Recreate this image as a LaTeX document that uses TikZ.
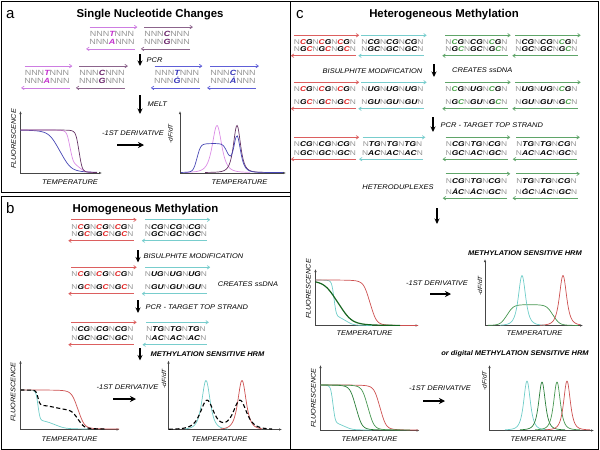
\documentclass[tikz,border=0pt]{standalone}
\usepackage{fontspec}
\setmainfont{Liberation Sans}
\newfontfamily\seqfont[FakeStretch=1.2]{Liberation Sans}
\newfontfamily\labfont[FakeStretch=1.1]{Liberation Sans}
\usetikzlibrary{arrows.meta}

\definecolor{ngrey}{RGB}{150,150,150}
\definecolor{pinkA}{RGB}{205,125,225}
\definecolor{pinkL}{RGB}{195,50,205}
\definecolor{mauveA}{RGB}{140,100,140}
\definecolor{mauveL}{RGB}{105,35,105}
\definecolor{blueA}{RGB}{95,95,215}
\definecolor{blueL}{RGB}{55,55,185}
\definecolor{redA}{RGB}{220,95,95}
\definecolor{redL}{RGB}{225,35,35}
\definecolor{cyanA}{RGB}{120,205,205}
\definecolor{greenA}{RGB}{95,165,105}
\definecolor{greenL}{RGB}{70,160,70}
\definecolor{axisgrey}{RGB}{70,70,70}
\definecolor{pinkC}{RGB}{220,140,230}
\definecolor{mauveC}{RGB}{100,50,100}
\definecolor{blueC}{RGB}{70,70,180}
\definecolor{redC}{RGB}{205,80,80}
\definecolor{cyanC}{RGB}{110,205,200}
\definecolor{greenC}{RGB}{70,150,80}
\definecolor{greenE}{RGB}{40,125,55}
\definecolor{greenD}{RGB}{20,100,30}

\newcommand{\bic}[2]{{\color{#1}\bfseries\itshape#2}}
\newcommand{\bi}[1]{\bic{black}{#1}}
\newcommand{\mcg}[1]{\bi{\textcolor{#1}{C}G}}
\newcommand{\mgc}[1]{\bi{G\textcolor{#1}{C}}}
% duplex: [style]{name}{x}{y top}{y bottom}{arrow colour}{top strand}{bottom strand}
\newcommand{\duplex}[8][seq]{%
  \node[#1] (#2t) at (#3,#4) {#7};
  \node[#1] (#2b) at (#3,#5) {#8};
  \draw[strand,#6] ([yshift=4pt]#2t.north west) -- ([xshift=3pt,yshift=4pt]#2t.north east);
  \draw[strand,#6] ([yshift=-4pt]#2b.south east) -- ([xshift=-3pt,yshift=-4pt]#2b.south west);
}

\tikzset{
  seq/.style={inner sep=0pt,text height=5pt,text depth=0pt,text=ngrey,font=\seqfont\fontsize{7}{8}\selectfont},
  seqa/.style={seq,text height=5.4pt,font=\seqfont\fontsize{7.5}{9}\selectfont},
  strand/.style={line width=0.7pt,-{Straight Barb[length=2.5pt,width=3.5pt]}},
  lab/.style={inner sep=0pt,text height=5pt,text depth=0pt,font=\labfont\fontsize{6.8}{8}\selectfont\itshape},
  blab/.style={lab,font=\labfont\fontsize{6.8}{8}\selectfont\bfseries\itshape},
  ylab/.style={lab,rotate=90,font=\labfont\fontsize{6}{7}\selectfont\itshape},
  flab/.style={ylab,font=\labfont\fontsize{6.6}{7}\selectfont\itshape},
  title/.style={inner sep=0pt,anchor=base,font=\bfseries\fontsize{11.4}{13}\selectfont},
  letter/.style={inner sep=0pt,anchor=base west,font=\fontsize{15}{17}\selectfont},
  process/.style={line width=1.3pt,-{Stealth[length=5.5pt,width=5pt]}},
  deriv/.style={line width=2pt,-{Stealth[length=6pt,width=6pt]}},
  axis/.style={axisgrey,line width=0.6pt,{Latex[length=3pt,width=2.4pt]}-{Latex[length=3pt,width=2.4pt]}},
  curve/.style={line width=0.7pt,smooth,samples=90},
  dashcurve/.style={curve,black,line width=1.1pt,dash pattern=on 4pt off 2.5pt},
  panel/.style={line width=0.9pt}
}

\begin{document}
\begin{tikzpicture}[x=1pt,y=-1pt,
  declare function={cl(\za)=min(max(\za,-8),8);
    sg(\za)=0.5+0.5*cl(\za)/(1+abs(cl(\za))*cl(\za)*cl(\za))^(1/3);
    bl(\za)=1/((1+cl(\za)*cl(\za))*(1+cl(\za)*cl(\za)));
    mlt(\xa,\xc,\xw)=sg((\xa-\xc)/\xw);
    pk(\xa,\xc,\xw)=bl((\xa-\xc)/\xw);}]
\useasboundingbox (0,0) rectangle (600,450);
% frames
\draw[panel] (1,1) rectangle (290,192);
\draw[panel] (1,196) rectangle (290,449);
\draw[panel] (290,1) rectangle (598,449);

% ---------- a
\node[letter] (la) at (6,18) {a};
\node[title] (ta) at (150,17.5) {Single Nucleotide Changes};
\duplex[seqa]{a1}{112}{34}{42}{pinkA}{NNN\bic{pinkL}{T}NNN}{NNN\bic{pinkL}{A}NNN}
\duplex[seqa]{a2}{167}{34}{42}{mauveA}{NNN\bic{mauveL}{C}NNN}{NNN\bic{mauveL}{G}NNN}
\duplex[seqa]{a3}{47}{73}{81}{pinkA}{NNN\bic{pinkL}{T}NNN}{NNN\bic{pinkL}{A}NNN}
\duplex[seqa]{a4}{102}{73}{81}{mauveA}{NNN\bic{mauveL}{C}NNN}{NNN\bic{mauveL}{G}NNN}
\duplex[seqa]{a5}{177}{73}{81}{blueA}{NNN\bic{blueL}{T}NNN}{NNN\bic{blueL}{\.{G}}NNN}
\duplex[seqa]{a6}{233}{73}{81}{blueA}{NNN\bic{blueL}{C}NNN}{NNN\bic{blueL}{\.{A}}NNN}
\coordinate (apcr1) at (140,54); \coordinate (apcr2) at (140,66);
\draw[process] (apcr1) -- (apcr2) node[lab,midway,anchor=west,xshift=6pt] (lpcr) {PCR};
\coordinate (amelt1) at (140,95); \coordinate (amelt2) at (140,114);
\draw[process] (amelt1) -- (amelt2) node[lab,midway,anchor=west,xshift=7pt,yshift=1pt] (lmelt) {MELT};
% melt plot
\draw[axis] (20.5,111) |- (102,173);
\node[flab] (afy) at (13.5,139) {FLUORESCENCE};
\node[lab] (afx) at (70,182) {TEMPERATURE};
\draw[curve,blueC,domain=20.5:97] plot (\x,{130+42.5*mlt(\x,60,12)});
\draw[curve,pinkC,domain=20.5:97] plot (\x,{130+42.5*(0.8*mlt(\x,70,3.5)+0.2*mlt(\x,80,6))});
\draw[curve,mauveC,domain=20.5:97] plot (\x,{130+42.5*mlt(\x,79,3.5)});
\node[lab] (ader) at (133,133) {-1ST DERIVATIVE};
\coordinate (ad1) at (117,145); \coordinate (ad2) at (144,145);
\draw[deriv] (ad1) -- (ad2);
% derivative plot
\draw[axis] (180,111) |- (286,173);
\node[ylab] (ady) at (170,134) {-dF/dT};
\node[lab] (adx) at (239.5,182) {TEMPERATURE};
\draw[curve,pinkC,domain=185:250] plot (\x,{172.5-47*pk(\x,217,8.5)});
\draw[curve,mauveC,domain=205:270] plot (\x,{172.5-47*pk(\x,237,6.5)});
\draw[curve,blueC,domain=181:283] plot (\x,{172.5-(29*(mlt(\x,197,4)-mlt(\x,228,5))+36*pk(\x,237,6.5))});

% ---------- b
\node[letter] (lb) at (6,213) {b};
\node[title] (tb) at (145.5,212) {Homogeneous Methylation};
\duplex{b1r}{102.5}{226.5}{234}{redA}{N\mcg{redL}N\mcg{redL}N\mcg{redL}N}{N\mgc{redL}N\mgc{redL}N\mgc{redL}N}
\duplex{b1c}{176}{226.5}{234}{cyanA}{N\bi{CG}N\bi{CG}N\bi{CG}N}{N\bi{GC}N\bi{GC}N\bi{GC}N}
\duplex{b2r}{102.5}{274}{287}{redA}{N\mcg{redL}N\mcg{redL}N\mcg{redL}N}{N\mgc{redL}N\mgc{redL}N\mgc{redL}N}
\duplex{b2c}{176}{274}{287}{cyanA}{N\bi{UG}N\bi{UG}N\bi{UG}N}{N\bi{GU}N\bi{GU}N\bi{GU}N}
\duplex{b3r}{102.5}{329}{338}{redA}{N\bi{CG}N\bi{CG}N\bi{CG}N}{N\bi{GC}N\bi{GC}N\bi{GC}N}
\duplex{b3c}{176}{329}{338}{cyanA}{N\bi{TG}N\bi{TG}N\bi{TG}N}{N\bi{AC}N\bi{AC}N\bi{AC}N}
\coordinate (bbis1) at (138,250); \coordinate (bbis2) at (138,262.5);
\draw[process] (bbis1) -- (bbis2) node[lab,midway,anchor=west,xshift=5pt] (lbis) {BISULPHITE MODIFICATION};
\node[lab] (bss) at (248,284) {CREATES ssDNA};
\coordinate (bpcr1) at (138,300); \coordinate (bpcr2) at (138,313);
\draw[process] (bpcr1) -- (bpcr2) node[lab,midway,anchor=west,xshift=7pt] (lbpcr) {PCR - TARGET TOP STRAND};
\coordinate (bhrm1) at (140,348); \coordinate (bhrm2) at (140,360.5);
\draw[process] (bhrm1) -- (bhrm2) node[blab,midway,anchor=west,xshift=10pt] (lbhrm) {METHYLATION SENSITIVE HRM};
% melt plot
\draw[axis] (20.5,360.5) |- (119.5,429.5);
\node[flab] (bfy) at (13,392) {FLUORESCENCE};
\node[lab] (bfx) at (69.5,438.5) {TEMPERATURE};
\draw[curve,cyanC,domain=20.5:88] plot (\x,{390+39*(0.78*mlt(\x,38,2.2)+0.22*mlt(\x,55,11))});
\draw[curve,redC,domain=20.5:119] plot (\x,{390+39*mlt(\x,78,7)});
\draw[dashcurve,domain=20.5:105] plot (\x,{390+39*(0.5*(0.78*mlt(\x,38,2.2)+0.22*mlt(\x,55,11))+0.5*mlt(\x,78,7))});
\node[lab] (bder) at (127.5,387) {-1ST DERIVATIVE};
\coordinate (bd1) at (113,399); \coordinate (bd2) at (136,399);
\draw[deriv] (bd1) -- (bd2);
% derivative plot
\draw[axis] (168.5,360.5) |- (282,429.5);
\node[ylab] (bdy) at (163.5,379) {-dF/dT};
\node[lab] (bdx) at (219.5,438.5) {TEMPERATURE};
\draw[curve,cyanC,domain=185:228] plot (\x,{429.5-49*pk(\x,206,7.5)});
\draw[curve,redC,domain=220:262] plot (\x,{429.5-49*pk(\x,242,7.5)});
\draw[dashcurve,domain=169:272] plot (\x,{429.5-29*(pk(\x,207,12)+pk(\x,240,12))});

% ---------- c
\node[letter] (lc) at (296,18) {c};
\node[title] (tc) at (444,17.5) {Heterogeneous Methylation};
\duplex{c1r}{325}{42}{49}{redA}{N\mcg{redL}N\mcg{redL}N\mcg{redL}N}{N\mgc{redL}N\mgc{redL}N\mgc{redL}N}
\duplex{c1c}{392.5}{42}{49}{cyanA}{N\bi{CG}N\bi{CG}N\bi{CG}N}{N\bi{GC}N\bi{GC}N\bi{GC}N}
\duplex{c1g}{476.5}{42}{49}{greenA}{N\mcg{greenL}N\bi{CG}N\mcg{greenL}N}{N\mgc{greenL}N\bi{GC}N\mgc{greenL}N}
\duplex{c1h}{546.5}{42}{49}{greenA}{N\bi{CG}N\bi{CG}N\mcg{greenL}N}{N\bi{GC}N\bi{GC}N\mgc{greenL}N}
\duplex{c2r}{325}{89}{102}{redA}{N\mcg{redL}N\mcg{redL}N\mcg{redL}N}{N\mgc{redL}N\mgc{redL}N\mgc{redL}N}
\duplex{c2c}{392.5}{89}{102}{cyanA}{N\bi{UG}N\bi{UG}N\bi{UG}N}{N\bi{GU}N\bi{GU}N\bi{GU}N}
\duplex{c2g}{476.5}{89}{102}{greenA}{N\mcg{greenL}N\bi{UG}N\mcg{greenL}N}{N\mgc{greenL}N\bi{GU}N\mgc{greenL}N}
\duplex{c2h}{546.5}{89}{102}{greenA}{N\bi{UG}N\bi{UG}N\mcg{greenL}N}{N\bi{GU}N\bi{GU}N\mgc{greenL}N}
\duplex{c3r}{325}{144}{152.5}{redA}{N\bi{CG}N\bi{CG}N\bi{CG}N}{N\bi{GC}N\bi{GC}N\bi{GC}N}
\duplex{c3c}{392.5}{144}{152.5}{cyanA}{N\bi{TG}N\bi{TG}N\bi{TG}N}{N\bi{AC}N\bi{AC}N\bi{AC}N}
\duplex{c3g}{476.5}{144}{152.5}{greenA}{N\bi{CG}N\bi{TG}N\bi{CG}N}{N\bi{GC}N\bi{AC}N\bi{GC}N}
\duplex{c3h}{546.5}{144}{152.5}{greenA}{N\bi{TG}N\bi{TG}N\bi{CG}N}{N\bi{AC}N\bi{AC}N\bi{GC}N}
\duplex{c4g}{476.5}{180.5}{191.5}{greenA}{N\bi{CG}N\bi{TG}N\bi{CG}N}{N\bi{\.{A}C}N\bi{\.{A}C}N\bi{GC}N}
\duplex{c4h}{546.5}{180.5}{191.5}{greenA}{N\bi{TG}N\bi{TG}N\bi{CG}N}{N\bi{\.{G}C}N\bi{\.{A}C}N\bi{GC}N}
\node[lab] (lhet) at (398,187) {HETERODUPLEXES};
\coordinate (cbis1) at (434,64); \coordinate (cbis2) at (434,77);
\draw[process] (cbis1) -- (cbis2) node[lab,midway,anchor=east,xshift=-11pt] (lcbis) {BISULPHITE MODIFICATION};
\node[lab,anchor=west] (css) at (452,70) {CREATES ssDNA};
\coordinate (cpcr1) at (433,117); \coordinate (cpcr2) at (433,132);
\draw[process] (cpcr1) -- (cpcr2) node[lab,midway,anchor=west,xshift=7pt] (lcpcr) {PCR - TARGET TOP STRAND};
\coordinate (cmelt1) at (437,208); \coordinate (cmelt2) at (437,224);
\draw[process] (cmelt1) -- (cmelt2);
% first melt plot
\node[blab] (chrm) at (525,253) {METHYLATION SENSITIVE HRM};
\draw[axis] (315.5,269) |- (418.5,325.5);
\node[flab] (cfy) at (308,289) {FLUORESCENCE};
\node[lab] (cfx) at (364.5,332.5) {TEMPERATURE};
\draw[curve,cyanC,domain=315.5:372] plot (\x,{280+45.5*(0.8*mlt(\x,334,2.5)+0.2*mlt(\x,346,8))});
\draw[curve,redC,domain=315.5:418] plot (\x,{280+45.5*mlt(\x,370,7)});
\draw[curve,greenD,line width=1.2pt,domain=315.5:400] plot (\x,{280+45.5*mlt(\x,338,15)});
\node[lab] (cder) at (437,283) {-1ST DERIVATIVE};
\coordinate (cd1) at (430,294); \coordinate (cd2) at (451,294);
\draw[deriv] (cd1) -- (cd2);
\draw[axis] (485,259) |- (583,325.5);
\node[ylab] (cdy) at (479.5,286) {-dF/dT};
\node[lab] (cdx) at (534.5,332.5) {TEMPERATURE};
\draw[curve,greenC,domain=488:578] plot (\x,{325.5-21*(mlt(\x,507,7)-mlt(\x,553,7))});
\draw[curve,cyanC,domain=500:545] plot (\x,{325.5-50*pk(\x,522,6.5)});
\draw[curve,redC,domain=540:580] plot (\x,{325.5-50*pk(\x,563,6.5)});
% second melt plot
\node[blab] (cdig) at (515,353) {or digital METHYLATION SENSITIVE HRM};
\draw[axis] (320.5,365) |- (419.5,430.5);
\node[flab] (cgy) at (313,398) {FLUORESCENCE};
\node[lab] (cgx) at (369.5,438.5) {TEMPERATURE};
\draw[curve,cyanC,domain=320.5:372] plot (\x,{385+45*(0.85*mlt(\x,333,2.5)+0.15*mlt(\x,345,8))});
\draw[curve,redC,domain=320.5:418] plot (\x,{385+45*mlt(\x,380,6.5)});
\draw[curve,greenE,domain=320.5:400] plot (\x,{385+45*mlt(\x,356,6.5)});
\draw[curve,greenC,domain=320.5:410] plot (\x,{385+45*mlt(\x,368,6.5)});
\node[lab] (cder2) at (440,388) {-1ST DERIVATIVE};
\coordinate (ce1) at (423,401); \coordinate (ce2) at (445,401);
\draw[deriv] (ce1) -- (ce2);
\draw[axis] (489.5,365) |- (594,430.5);
\node[ylab] (chy) at (484,381) {-dF/dT};
\node[lab] (chx) at (538.5,438.5) {TEMPERATURE};
\draw[curve,cyanC,domain=505:550] plot (\x,{430-49*pk(\x,527,6)});
\draw[curve,greenE,domain=520:565] plot (\x,{430-48*pk(\x,542,6)});
\draw[curve,greenC,domain=535:580] plot (\x,{430-48*pk(\x,557,6)});
\draw[curve,redC,domain=545:590] plot (\x,{430-49*pk(\x,567,6)});
\end{tikzpicture}
\end{document}
